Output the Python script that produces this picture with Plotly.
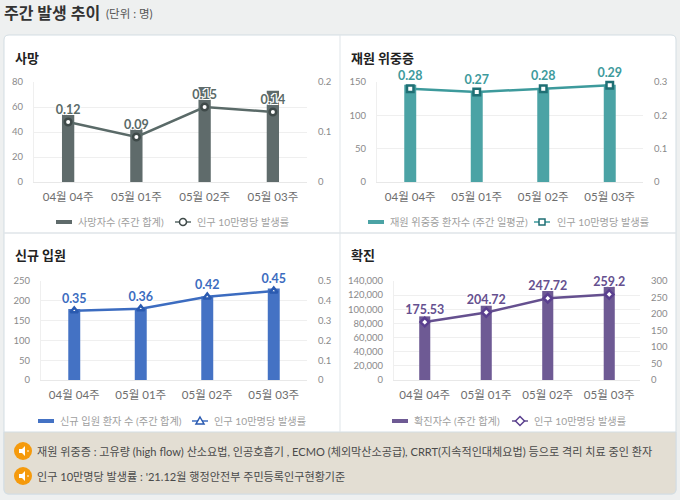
import plotly.graph_objects as go

##############################################
# Data
##############################################

weeks = ["04월 04주", "05월 01주", "05월 02주", "05월 03주"]
rate_name = "인구 10만명당 발생률"

titles = ["사망", "재원 위중증", "신규 입원", "확진"]
bar_names = ["사망자수 (주간 합계)", "재원 위중증 환자수 (주간 일평균)", "신규 입원 환자 수 (주간 합계)", "확진자수 (주간 합계)"]

death_counts = [54, 43, 76, 73]
death_rates = [0.12, 0.09, 0.15, 0.14]
severe_counts = [146, 136, 141, 146]
severe_rates = [0.28, 0.27, 0.28, 0.29]
admit_counts = [179, 182, 211, 231]
admit_rates = [0.35, 0.36, 0.42, 0.45]
case_counts = [90000, 105000, 126000, 132000]
case_rates = [175.53, 204.72, 247.72, 259.2]

left_ranges = [80, 150, 250, 140000]
left_dticks = [20, 50, 50, 20000]
right_ranges = [0.2, 0.3, 0.5, 300]
right_dticks = [0.1, 0.1, 0.1, 50]

notes = [
    "재원 위중증 : 고유량 (high flow) 산소요법, 인공호흡기 , ECMO (체외막산소공급), CRRT(지속적인대체요법) 등으로 격리 치료 중인 환자",
    "인구 10만명당 발생률 : '21.12월 행정안전부 주민등록인구현황기준",
]

##############################################
# Style
##############################################

FONT = "Lato, Noto Sans CJK KR"
bar_colors = ["#5f6b6b", "#4ba3a5", "#4472c4", "#6e5a94"]
line_colors = ["#5a6a68", "#3d9a9c", "#3c6cc0", "#65508f"]
marker_lines = ["#3f4a49", "#1f6f74", "#2a5ab0", "#5a3f8f"]
symbols = ["circle", "square", "triangle-up", "diamond"]

# plot boxes in pixels: left, right, top, bottom
boxes = [(34, 307, 82, 182), (377, 643, 82, 182), (41, 307, 281, 380), (394, 640, 281, 380)]
title_pos = [(14, 58), (350, 58), (14, 255), (350, 255)]
# legend: key start, bar text start, line start, rate text start, y
legend_pos = [(56, 77, 175, 196, 222), (368, 389, 534, 556, 222), (38, 59, 192, 213, 421), (392, 413, 512, 533, 421)]

series = [
    (death_counts, death_rates),
    (severe_counts, severe_rates),
    (admit_counts, admit_rates),
    (case_counts, case_rates),
]


def px(x):
    return x / 680


def py(y):
    return 1 - y / 500


fig = go.Figure()

##############################################
# Panels
##############################################

for i, (counts, rates) in enumerate(series):
    n = i * 2 + 1
    left, right = f"y{n}", f"y{n + 1}"
    xname = f"x{i + 1}"

    fig.add_trace(go.Bar(
        x=weeks, y=counts, xaxis=xname, yaxis=left,
        marker=dict(color=bar_colors[i], line=dict(width=0)),
        width=0.18, showlegend=False, name=bar_names[i],
    ))
    fig.add_trace(go.Scatter(
        x=weeks, y=rates, xaxis=xname, yaxis=right,
        mode="lines+markers+text",
        text=[f"{r:g}" for r in rates],
        textposition="top center",
        cliponaxis=False,
        textfont=dict(
            family=FONT, size=12.5, weight=700, color=line_colors[i],
            shadow="1px 1px 0 #fff, -1px -1px 0 #fff, 1px -1px 0 #fff, -1px 1px 0 #fff",
        ),
        line=dict(color=line_colors[i], width=2.5),
        marker=dict(symbol=symbols[i], size=6.5, color="white",
                    line=dict(color=marker_lines[i], width=2.5)),
        name=rate_name, showlegend=False,
    ))

    x0, x1, y0, y1 = boxes[i]
    axis_suffix = "" if i == 0 else str(i + 1)
    left_suffix = "" if n == 1 else str(n)
    fig.update_layout({
        f"xaxis{axis_suffix}": dict(
            domain=[px(x0), px(x1)], anchor=left,
            showgrid=False, showline=True, linecolor="#e8e8e8", linewidth=1,
            ticks="", ticklabelstandoff=4,
            tickfont=dict(family=FONT, size=11.5, color="#6e6e6e"),
        ),
        f"yaxis{left_suffix}": dict(
            domain=[py(y1), py(y0)], anchor=xname,
            range=[0, left_ranges[i]], dtick=left_dticks[i],
            tickformat=",d", showgrid=True, gridcolor="#efefef", gridwidth=1,
            zeroline=False, showline=True, linecolor="#efefef",
            ticklabelstandoff=8,
            tickfont=dict(family=FONT, size=9.5, color="#8a8a8a"),
        ),
        f"yaxis{n + 1}": dict(
            domain=[py(y1), py(y0)], anchor=xname, overlaying=left, side="right",
            range=[0, right_ranges[i]], dtick=right_dticks[i],
            tickformat="~g", showgrid=False, zeroline=False, showline=False,
            ticklabelstandoff=10,
            tickfont=dict(family=FONT, size=9.5, color="#8a8a8a"),
        ),
    })

##############################################
# Cards, titles, notes
##############################################

shapes = [
    dict(type="path", path="M 4,40 Q 4,35 9,35 L 671,35 Q 676,35 676,40 L 676,489 Q 676,494 671,494 L 9,494 Q 4,494 4,489 Z",
         fillcolor="white", line=dict(color="#d3dde3", width=1), layer="below"),
    dict(type="path", path="M 4,432 L 676,432 L 676,489 Q 676,494 671,494 L 9,494 Q 4,494 4,489 Z",
         fillcolor="#e3ded3", line=dict(color="#d3dde3", width=1), layer="below"),
    dict(type="line", x0=340, x1=340, y0=35, y1=432, line=dict(color="#dfe5e9", width=1), layer="below"),
    dict(type="line", x0=4, x1=676, y0=233, y1=233, line=dict(color="#dfe5e9", width=1.5), layer="below"),
]
annotations = []


def add_text(x, y, text, size, color, weight=None):
    annotations.append(dict(
        x=px(x), y=py(y), xref="paper", yref="paper", xanchor="left", yanchor="middle",
        text=text, showarrow=False, xshift=-1,
        font=dict(family=FONT, size=size, color=color, weight=weight),
    ))


add_text(3, 12, "주간 발생 추이", 16, "#333333", 700)
add_text(105, 13, "(단위 : 명)", 11.5, "#555555")

for pos, title in zip(title_pos, titles):
    add_text(pos[0], pos[1], title, 13, "#222222", 700)

##############################################
# Legends (keys are shorter than plotly's own legend allows)
##############################################

for i, (kx, tx, lx, rx, y) in enumerate(legend_pos):
    add_text(tx, y, bar_names[i], 10.2, "#a0a0a0")
    add_text(rx, y, rate_name, 10.2, "#a0a0a0")
    shapes.append(dict(type="rect", x0=kx, x1=kx + 16, y0=y - 2, y1=y + 2,
                       fillcolor=bar_colors[i], line=dict(width=0)))
    shapes.append(dict(type="line", x0=lx, x1=lx + 16, y0=y, y1=y,
                       line=dict(color=line_colors[i], width=1.5)))
    cx = lx + 8
    mark = dict(fillcolor="white", line=dict(color=marker_lines[i], width=1.5))
    if i == 0:
        shapes.append(dict(type="circle", x0=cx - 3.5, x1=cx + 3.5, y0=y - 3.5, y1=y + 3.5, **mark))
    elif i == 1:
        shapes.append(dict(type="rect", x0=cx - 3, x1=cx + 3, y0=y - 3, y1=y + 3, **mark))
    elif i == 2:
        shapes.append(dict(type="path", path=f"M {cx},{y - 4} L {cx + 4},{y + 3} L {cx - 4},{y + 3} Z", **mark))
    else:
        shapes.append(dict(type="path", path=f"M {cx},{y - 4.5} L {cx + 4.5},{y} L {cx},{y + 4.5} L {cx - 4.5},{y} Z", **mark))

for y, note in zip([451, 476], notes):
    add_text(36, y, note, 11.1, "#4a4a4a")
    shapes.append(dict(type="circle", x0=14, x1=32, y0=y - 9, y1=y + 9,
                       fillcolor="#f59a0c", line=dict(width=0)))
    shapes.append(dict(type="path", path=f"M 19,{y - 2} L 22,{y - 2} L 25,{y - 5} L 25,{y + 5} L 22,{y + 2} L 19,{y + 2} Z",
                       fillcolor="white", line=dict(width=0)))
    shapes.append(dict(type="line", x0=27, x1=29, y0=y, y1=y, line=dict(color="white", width=1)))

for s in shapes:
    s["xref"] = "paper"
    s["yref"] = "paper"
    if s["type"] == "path":
        parts = s["path"].replace("M", " M ").replace("L", " L ").replace("Q", " Q ").replace("Z", " Z ").split()
        out = []
        for p in parts:
            if "," in p:
                a, b = p.split(",")
                out.append(f"{px(float(a))},{py(float(b))}")
            else:
                out.append(p)
        s["path"] = " ".join(out)
    else:
        s["x0"], s["x1"] = px(s["x0"]), px(s["x1"])
        s["y0"], s["y1"] = py(s["y0"]), py(s["y1"])

##############################################
# Layout
##############################################

fig.update_layout(
    width=680,
    height=500,
    margin=dict(l=0, r=0, t=0, b=0, autoexpand=False),
    paper_bgcolor="#eef0f0",
    plot_bgcolor="rgba(0,0,0,0)",
    font=dict(family=FONT),
    showlegend=False,
    shapes=shapes,
    annotations=annotations,
)

# the page's default body margin would push the figure 8px off
fig.write_html(
    "out.html",
    config=dict(displayModeBar=False),
    post_script="document.body.style.margin='0';document.body.style.background='#eef0f0';",
)
